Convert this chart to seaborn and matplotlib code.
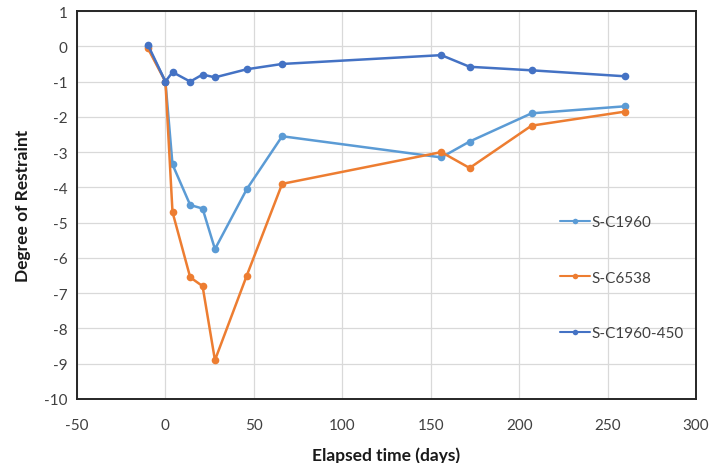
import matplotlib
matplotlib.use("Agg")
import matplotlib.pyplot as plt
import seaborn as sns
import pandas as pd

days = [-10, 0, 4, 14, 21, 28, 46, 66, 156, 172, 207, 260]
s_c1960 = [0.0, -1.0, -3.35, -4.5, -4.6, -5.75, -4.05, -2.55, -3.15, -2.7, -1.9, -1.7]
s_c6538 = [-0.05, -1.0, -4.7, -6.55, -6.8, -8.9, -6.5, -3.9, -3.0, -3.45, -2.25, -1.85]
s_c1960_450 = [0.05, -1.0, -0.73, -1.0, -0.8, -0.88, -0.65, -0.5, -0.25, -0.58, -0.68, -0.85]
series_names = ["S-C1960", "S-C6538", "S-C1960-450"]
colors = ["#5B9BD5", "#ED7D31", "#4472C4"]
x_ticks = [-50, 0, 50, 100, 150, 200, 250, 300]
y_ticks = list(range(-10, 2))

sns.set_theme(style="white")
plt.rcParams["font.family"] = ["Lato", "DejaVu Sans"]
plt.rcParams["axes.unicode_minus"] = False

frames = []
for name, vals in zip(series_names, [s_c1960, s_c6538, s_c1960_450]):
    frames.append(pd.DataFrame({"days": days, "value": vals, "series": name}))
df = pd.concat(frames, ignore_index=True)

fig = plt.figure(figsize=(7.21, 4.64), dpi=100)
ax = fig.add_axes([0.1068, 0.138, 0.8585, 0.836])

sns.lineplot(data=df, x="days", y="value", hue="series", hue_order=series_names,
             palette=colors, marker="o", markersize=5.5, markeredgewidth=0,
             linewidth=1.8, sort=False, ax=ax)

ax.set_xlim(-50, 300)
ax.set_ylim(-10, 1)
ax.set_xticks(x_ticks)
ax.set_yticks(y_ticks)
ax.grid(True, color="#d9d9d9", linewidth=0.9)
ax.set_axisbelow(True)
for s in ax.spines.values():
    s.set_color("#262626")
    s.set_linewidth(1.4)
ax.tick_params(axis="y", which="major", length=4, width=0.8, color="#bfbfbf",
               labelsize=11, labelcolor="#404040", pad=3)
ax.tick_params(axis="x", which="major", length=0, labelsize=11,
               labelcolor="#404040", pad=14)
ax.set_xlabel("Elapsed time (days)", fontsize=12.5, fontweight="bold", color="#1a1a1a", labelpad=10)
ax.set_ylabel("Degree of Restraint", fontsize=12.5, fontweight="bold", color="#1a1a1a", labelpad=9)

handles, labels = ax.get_legend_handles_labels()
for h in handles:
    h.set_markersize(4)
    h.set_linewidth(1.5)
ax.legend(handles, labels, loc="upper left", bbox_to_anchor=(0.78, 0.473),
          frameon=False, fontsize=11, handlelength=2.0, handletextpad=0.1,
          labelspacing=2.7, borderpad=0, borderaxespad=0, labelcolor="#404040")

fig.savefig("out.png", dpi=100)
